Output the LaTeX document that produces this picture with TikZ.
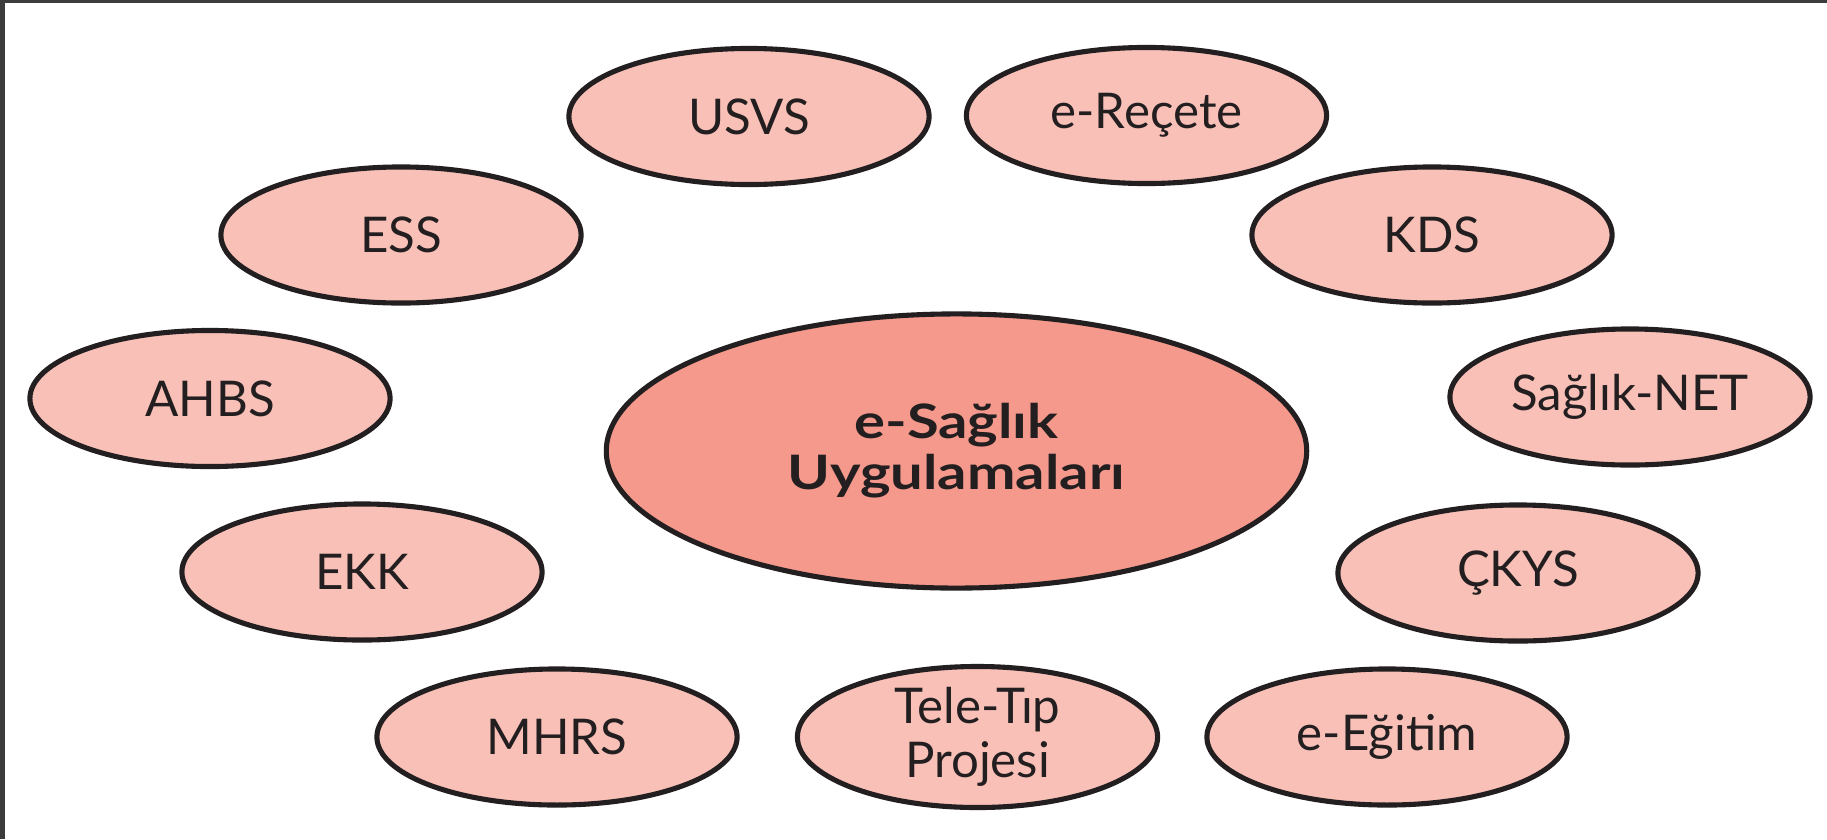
\documentclass[tikz,border=0pt]{standalone}
\usepackage{fontspec}
\setmainfont{Lato}
\newfontfamily\hubfont[FakeStretch=1.22]{Lato}
\usetikzlibrary{shapes.geometric}
\definecolor{framegray}{HTML}{3C3C3C}
\definecolor{smallfill}{HTML}{F9C0B8}
\definecolor{bigfill}{HTML}{F4998B}
\definecolor{inkc}{HTML}{231F20}
\tikzset{
  leaf/.style={ellipse, draw=inkc, line width=1.45pt, fill=smallfill,
    minimum width=3.6cm, minimum height=1.36cm, inner sep=0pt,
    text=inkc, font=\fontsize{14}{15.5}\selectfont, align=center},
  hub/.style={ellipse, draw=inkc, line width=1.45pt, fill=bigfill,
    minimum width=7.0cm, minimum height=2.74cm, inner sep=0pt,
    text=inkc, font=\hubfont\bfseries\fontsize{13.5}{14.5}\selectfont, align=center}
}
\begin{document}
\begin{tikzpicture}[x=0.01cm,y=-0.01cm]
\useasboundingbox (0,0) rectangle (1827,839);
\fill[white] (0,0) rectangle (1827,839);
\fill[framegray] (0,0) rectangle (1827,3);
\fill[framegray] (0,0) rectangle (5,839);
\node[hub] (hub) at (956.5,451) {e-Sağlık\\Uygulamaları};
\node[leaf] (usvs) at (749,116.5) {USVS};
\node[leaf] (erecete) at (1146.5,115.5) {e-Reçete};
\node[leaf] (ess) at (401,235) {ESS};
\node[leaf] (kds) at (1432,235) {KDS};
\node[leaf] (ahbs) at (210,398.5) {AHBS};
\node[leaf] (snet) at (1630,397) {Sağlık-NET};
\node[leaf] (ekk) at (362,572) {EKK};
\node[leaf] (ckys) at (1518,573) {ÇKYS};
\node[leaf] (mhrs) at (557,737) {MHRS};
\node[leaf] (teletip) at (977.5,737) {Tele-Tıp\\Projesi};
\node[leaf] (eegitim) at (1387,737) {e-Eğitim};
\end{tikzpicture}
\end{document}
